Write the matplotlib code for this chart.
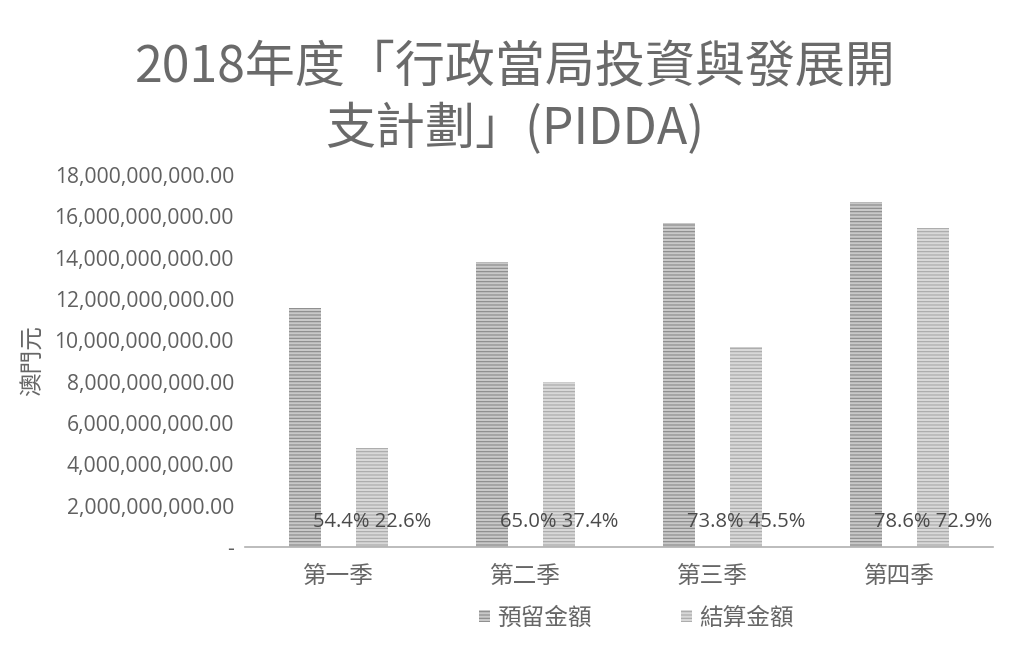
import numpy as np
import matplotlib.pyplot as plt
from matplotlib.transforms import blended_transform_factory

plt.rcParams['font.family'] = ['Noto Sans CJK TC', 'DejaVu Sans']

# data
quarters = ['第一季', '第二季', '第三季', '第四季']
reserved = [11.55e9, 13.80e9, 15.66e9, 16.69e9]   # 預留金額
settled = [4.77e9, 7.97e9, 9.69e9, 15.45e9]       # 結算金額
reserved_pct = [54.4, 65.0, 73.8, 78.6]
settled_pct = [22.6, 37.4, 45.5, 72.9]
yticks = np.arange(0, 18e9 + 1, 2e9)

fig = plt.figure(figsize=(10.30, 6.48), dpi=100)
ax = fig.add_axes([0.238, 0.156, 0.726, 0.574])

x = np.arange(len(quarters))
w = 0.17
off = 0.18
plt.rcParams['hatch.linewidth'] = 0.8
ax.bar(x - off, reserved, w, color='#c9c9c9', edgecolor='#8a8a8a', hatch='-----',
       linewidth=0, label='預留金額')
ax.bar(x + off, settled, w, color='#d8d8d8', edgecolor='#a8a8a8', hatch='-----',
       linewidth=0, label='結算金額')

# percentage labels
trans = blended_transform_factory(ax.transData, ax.transAxes)
for i in range(len(quarters)):
    ax.text(x[i] + off, 0.067, f'{reserved_pct[i]:.1f}% {settled_pct[i]:.1f}%',
            transform=trans, ha='center', va='center', fontsize=14.5,
            color='#4a4a4a', family=['Open Sans', 'DejaVu Sans'])

ax.set_xlim(-0.5, len(quarters) - 0.5)
ax.set_ylim(0, 18e9)
ax.set_yticks(yticks)
ax.set_yticklabels(['-' if v == 0 else f'{v:,.2f}' for v in yticks],
                   family=['Open Sans', 'DejaVu Sans'], fontsize=15.2, color='#606060')
ax.set_xticks(x)
ax.set_xticklabels(quarters, fontsize=17, color='#666666')
ax.tick_params(axis='both', length=0)
ax.tick_params(axis='x', pad=13)
ax.tick_params(axis='y', pad=8)

for s in ['top', 'right', 'left']:
    ax.spines[s].set_visible(False)
ax.spines['bottom'].set_color('#b0b0b0')
ax.spines['bottom'].set_linewidth(1.2)

ax.set_ylabel('澳門元', fontsize=17, color='#666666')
ax.yaxis.set_label_coords(-0.268, 0.50)

fig.text(0.50, 1 - 68 / 648, '2018年度「行政當局投資與發展開', ha='center', va='center',
         fontsize=36, color='#6a6a6a')
fig.text(0.50, 1 - 130 / 648, '支計劃」(PIDDA)', ha='center', va='center',
         fontsize=36, color='#6a6a6a')

leg = ax.legend(loc='center', bbox_to_anchor=(0.523, -0.191), ncol=2, frameon=False,
                fontsize=17, handlelength=0.45, handleheight=0.45, columnspacing=3.8,
                handletextpad=0.3)
for t in leg.get_texts():
    t.set_color('#666666')

fig.savefig('out.png', dpi=100, facecolor='white')
